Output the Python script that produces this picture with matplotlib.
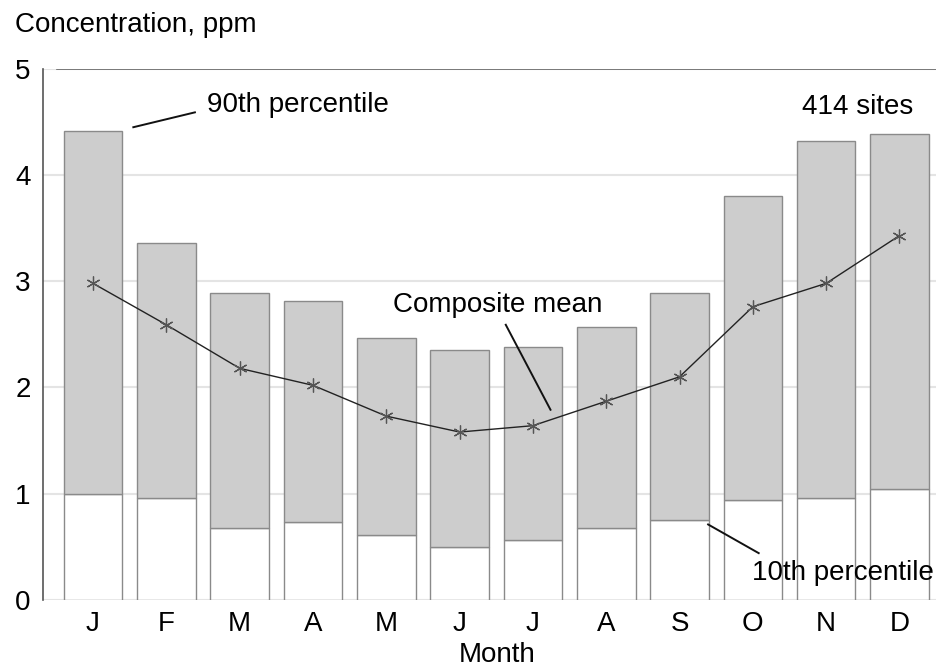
import numpy as np
import matplotlib
matplotlib.use("Agg")
import matplotlib.pyplot as plt

plt.rcParams["font.family"] = ["Liberation Sans", "DejaVu Sans"]

# Monthly ozone concentration, ppm
months = ["J", "F", "M", "A", "M", "J", "J", "A", "S", "O", "N", "D"]
p10 = [1.00, 0.96, 0.68, 0.73, 0.61, 0.50, 0.56, 0.68, 0.75, 0.94, 0.96, 1.04]
p90 = [4.41, 3.36, 2.89, 2.81, 2.47, 2.35, 2.38, 2.57, 2.89, 3.80, 4.32, 4.39]
mean = [2.98, 2.59, 2.18, 2.02, 1.73, 1.58, 1.64, 1.87, 2.10, 2.76, 2.98, 3.43]

FS = 20

fig = plt.figure(figsize=(9.38, 6.68), dpi=100)
ax = fig.add_axes([0.046, 0.102, 0.952, 0.795])

x = np.arange(len(months))
p10 = np.array(p10)
p90 = np.array(p90)

ax.bar(x, p10, 0.8, color="white", edgecolor="#8a8a8a", linewidth=1.0, zorder=2)
ax.bar(x, p90 - p10, 0.8, bottom=p10, color="#cdcdcd",
       edgecolor="#8a8a8a", linewidth=1.0, zorder=2)
ax.plot(x, mean, color="#222222", linewidth=1.0, zorder=3)
ax.plot(x, mean, linestyle="none", marker=(6, 2, 0), markersize=10,
        markeredgecolor="#555555", markeredgewidth=0.9, zorder=4)

ax.set_xlim(-0.68, 11.5)
ax.set_ylim(0, 5)
ax.set_yticks([0, 1, 2, 3, 4, 5])
ax.set_xticks(x)
ax.set_xticklabels(months)
ax.grid(axis="y", color="#e4e4e4", linewidth=1.5, zorder=0)
ax.axhline(5, xmin=0.016, xmax=1, color="#666666", linewidth=1.2, zorder=3)

for side in ["top", "right", "bottom"]:
    ax.spines[side].set_visible(False)
ax.spines["left"].set_color("#555555")
ax.spines["left"].set_linewidth(1.2)

ax.tick_params(axis="y", length=0, pad=9, labelsize=FS)
ax.tick_params(axis="x", direction="in", length=6, color="#e4e4e4",
               width=1.2, pad=8, labelsize=FS)

fig.text(0.016, 0.962, "Concentration, ppm", fontsize=FS, va="center", ha="left")
fig.text(0.53, 0.009, "Month", fontsize=FS, va="baseline", ha="center")

# Annotations
ax.text(1.56, 4.66, "90th percentile", fontsize=FS, va="center", ha="left")
ax.plot([0.55, 1.39], [4.45, 4.59], color="#111111", linewidth=1.4)
ax.text(11.19, 4.64, "414 sites", fontsize=FS, va="center", ha="right")
ax.text(4.09, 2.78, "Composite mean", fontsize=FS, va="center", ha="left")
ax.plot([5.63, 6.24], [2.59, 1.79], color="#111111", linewidth=1.4)
ax.text(11.47, 0.25, "10th percentile", fontsize=FS, va="center", ha="right")
ax.plot([8.39, 9.08], [0.71, 0.44], color="#111111", linewidth=1.4)

fig.savefig("out.png", dpi=100)
